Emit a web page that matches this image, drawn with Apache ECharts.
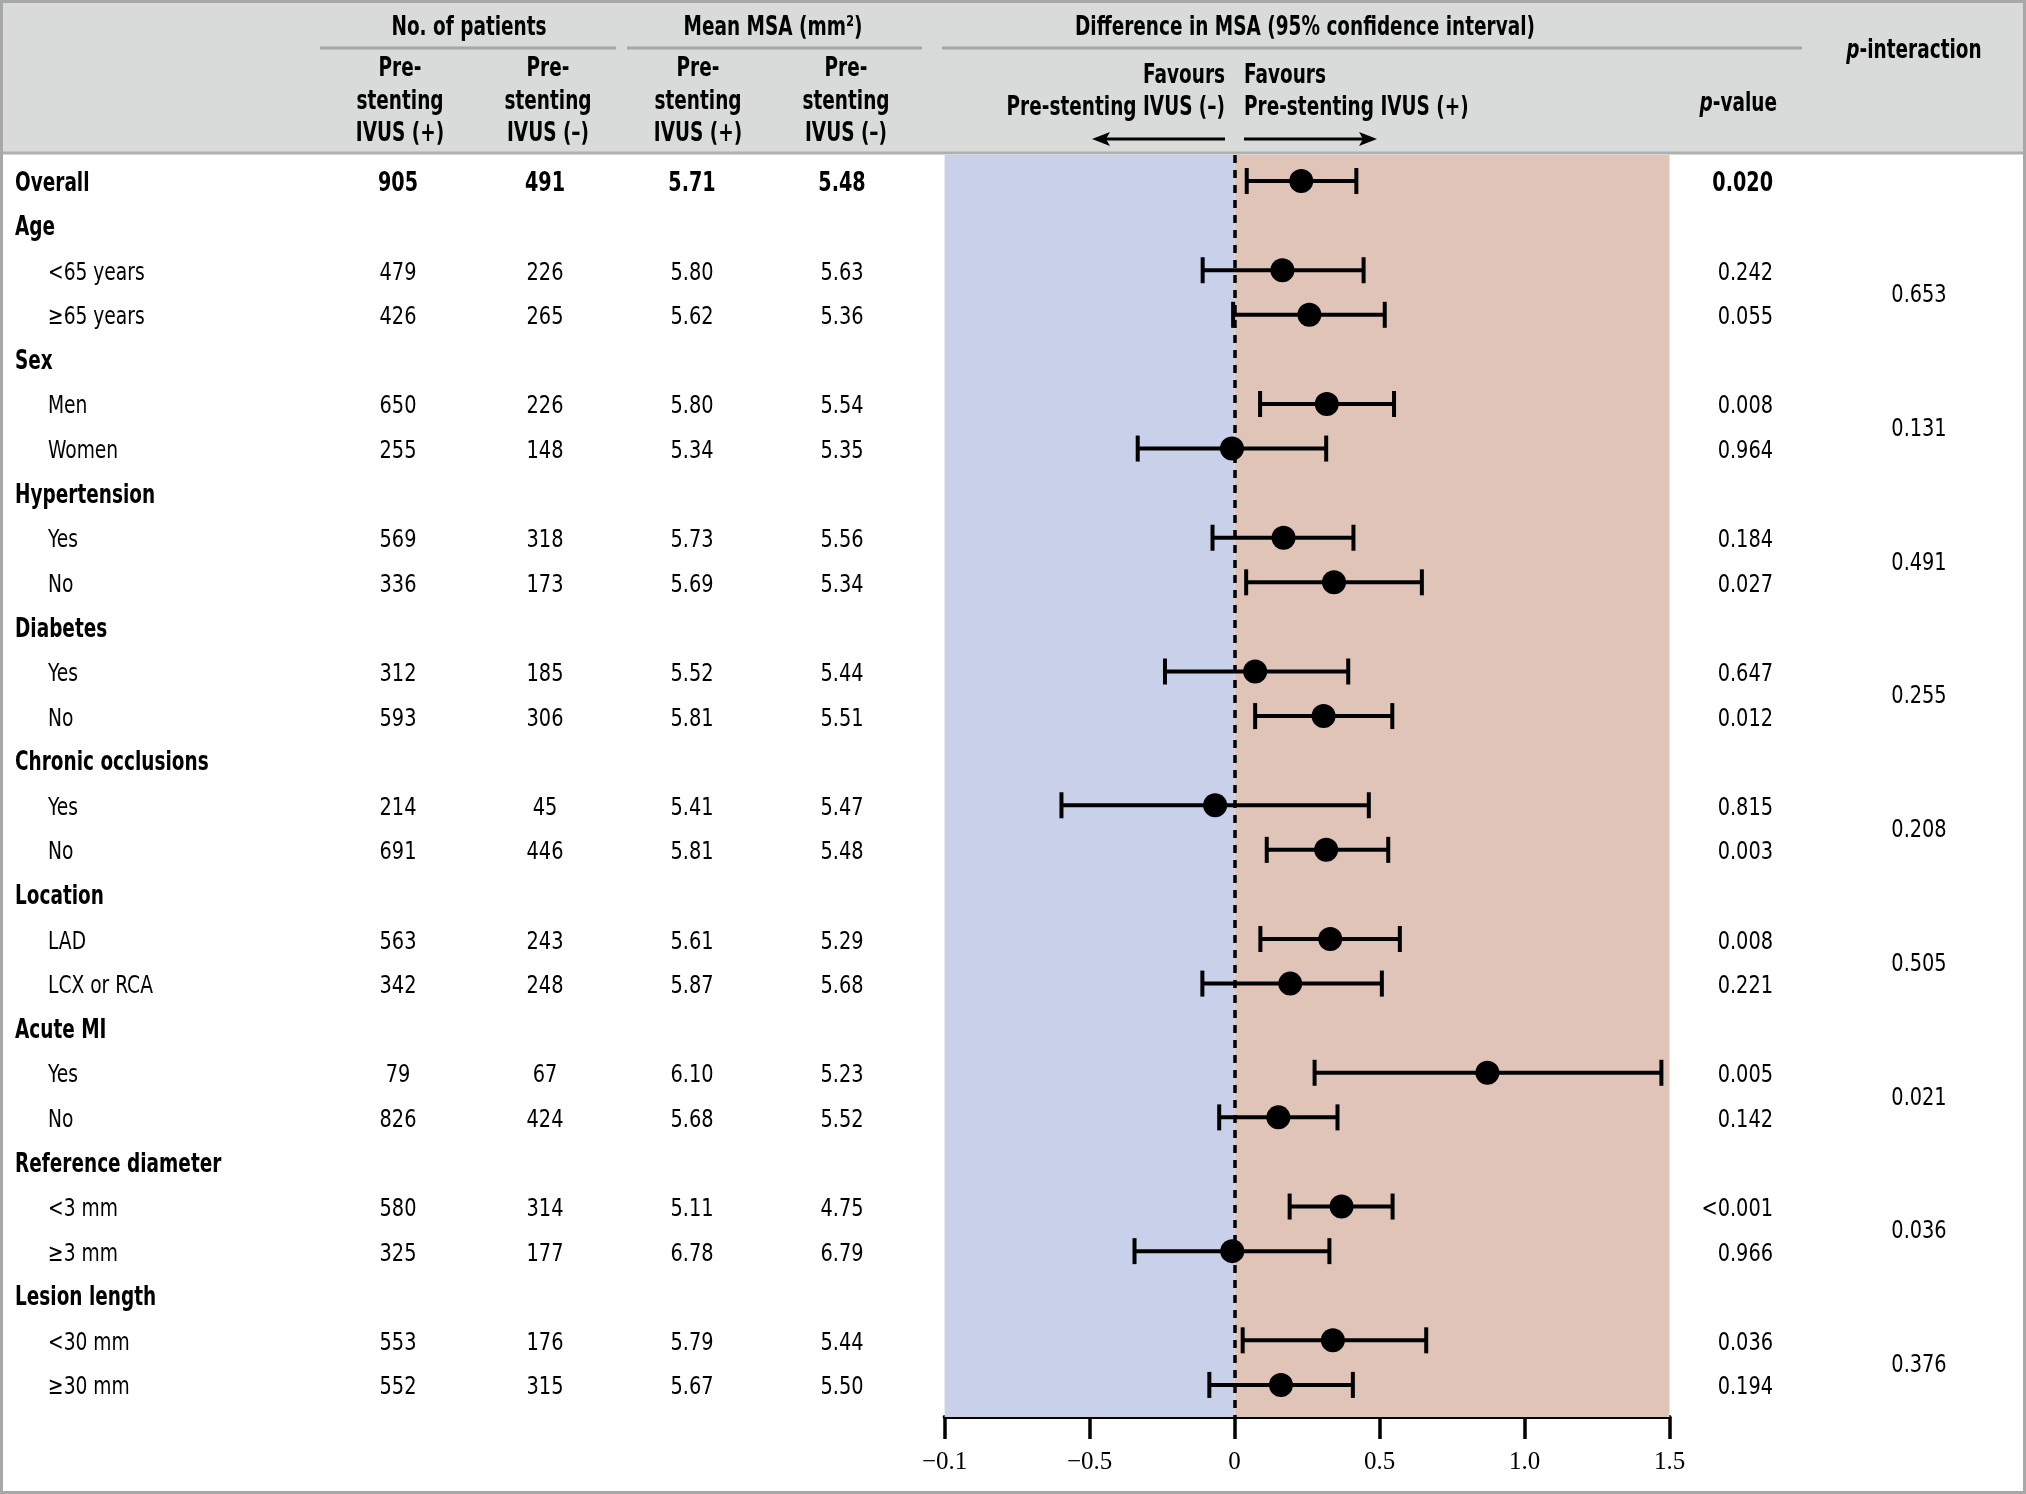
<!DOCTYPE html>
<html>
<head>
<meta charset="utf-8">
<script src="https://cdn.jsdelivr.net/npm/echarts@6/dist/echarts.min.js"></script>
<style>
html,body{margin:0;padding:0;background:#fff;}
#chart{width:2026px;height:1494px;}
</style>
</head>
<body>
<div id="chart"></div>
<script>
// ---------- data ----------
const rowLabels = ['Overall','Age','<65 years','\u226565 years','Sex','Men','Women','Hypertension','Yes','No','Diabetes','Yes','No','Chronic occlusions','Yes','No','Location','LAD','LCX or RCA','Acute MI','Yes','No','Reference diameter','<3 mm','\u22653 mm','Lesion length','<30 mm','\u226530 mm'];
const rowTypes = ['total','group','sub','sub','group','sub','sub','group','sub','sub','group','sub','sub','group','sub','sub','group','sub','sub','group','sub','sub','group','sub','sub','group','sub','sub'];
const nPlus  = ['905','','479','426','','650','255','','569','336','','312','593','','214','691','','563','342','','79','826','','580','325','','553','552'];
const nMinus = ['491','','226','265','','226','148','','318','173','','185','306','','45','446','','243','248','','67','424','','314','177','','176','315'];
const msaPlus  = ['5.71','','5.80','5.62','','5.80','5.34','','5.73','5.69','','5.52','5.81','','5.41','5.81','','5.61','5.87','','6.10','5.68','','5.11','6.78','','5.79','5.67'];
const msaMinus = ['5.48','','5.63','5.36','','5.54','5.35','','5.56','5.34','','5.44','5.51','','5.47','5.48','','5.29','5.68','','5.23','5.52','','4.75','6.79','','5.44','5.50'];
const pValues = ['0.020','','0.242','0.055','','0.008','0.964','','0.184','0.027','','0.647','0.012','','0.815','0.003','','0.008','0.221','','0.005','0.142','','<0.001','0.966','','0.036','0.194'];
// difference in MSA (point, lower, upper), null for header rows
const diffPoint = [0.23,null,0.165,0.258,null,0.318,-0.009,null,0.169,0.343,null,0.071,0.307,null,-0.067,0.316,null,0.330,0.192,null,0.872,0.151,null,0.369,-0.008,null,0.339,0.160];
const diffLower = [0.042,null,-0.110,-0.005,null,0.088,-0.334,null,-0.076,0.040,null,-0.240,0.071,null,-0.597,0.111,null,0.089,-0.111,null,0.276,-0.053,null,0.190,-0.345,null,0.028,-0.087];
const diffUpper = [0.420,null,0.445,0.518,null,0.550,0.316,null,0.410,0.646,null,0.392,0.544,null,0.463,0.530,null,0.570,0.508,null,1.472,0.355,null,0.545,0.327,null,0.661,0.408];
const pInterRows = [[2,3],[5,6],[8,9],[11,12],[14,15],[17,18],[20,21],[23,24],[26,27]];
const pInterValues = ['0.653','0.131','0.491','0.255','0.208','0.505','0.021','0.036','0.376'];
const xTickValues = [-1,-0.5,0,0.5,1,1.5];
const xTickLabels = ['\u22120.1','\u22120.5','0','0.5','1.0','1.5'];

// ---------- style ----------
const FF = '"Liberation Sans Narrow","DejaVu Sans Condensed","Arial Narrow",sans-serif';
const fReg = '25px ' + FF;
const fBold = 'bold 26px ' + FF;
const BLUE = '#c8d0ea';
const TAN = '#dfc4b7';
const TY = 3; // small vertical offset of table text relative to row centre
// horizontal compression to mimic the condensed typeface
const SX_BOLD = 0.79, SX_REG = 0.83, SX_NUM = 0.86, SX_NUMB = 0.82;

const chart = echarts.init(document.getElementById('chart'), null, {renderer:'canvas'});

const ciData = [], ptData = [], tableData = [];
rowLabels.forEach((l,i)=>{
  tableData.push([0,i]);
  if (diffPoint[i] !== null) {
    ciData.push([diffLower[i], diffUpper[i], i]);
    ptData.push([diffPoint[i], i]);
  }
});
const pInterData = pInterRows.map((r,k)=>[0, (r[0]+r[1])/2, k]);

function txt(text, x, y, font, align, sx) {
  return {type:'text', x:x, y:y, scaleX:sx, scaleY:1,
    style:{text:text, x:0, y:0, font:font, fill:'#000',
      textAlign:align, textVerticalAlign:'middle', align:align, verticalAlign:'middle'}};
}
function richTxt(base, x, y, align, sx) {
  return {type:'text', x:x, y:y, scaleX:sx, scaleY:1,
    style:{text:'{i|p}{n|' + base + '}', x:0, y:0, textAlign:align, textVerticalAlign:'middle', align:align, verticalAlign:'middle',
      rich:{i:{fontFamily:FF, fontSize:26, fontWeight:'bold', fontStyle:'italic', fill:'#000'},
            n:{fontFamily:FF, fontSize:26, fontWeight:'bold', fill:'#000'}}}};
}

const headerFont = 'bold 26px ' + FF;
const subCols = [400, 548, 698, 846];
const graphics = [
  {type:'rect', z:-10, shape:{x:0,y:0,width:2026,height:153}, style:{fill:'#d9dada'}},
  {type:'line', z:-9, shape:{x1:0,y1:153,x2:2026,y2:153}, style:{stroke:'#b0b0b0', lineWidth:3}},
  {type:'line', shape:{x1:320,y1:48,x2:616,y2:48}, style:{stroke:'#a6a6a6', lineWidth:3}},
  {type:'line', shape:{x1:627,y1:48,x2:922,y2:48}, style:{stroke:'#a6a6a6', lineWidth:3}},
  {type:'line', shape:{x1:942,y1:48,x2:1802,y2:48}, style:{stroke:'#a6a6a6', lineWidth:3}},
  txt('No. of patients', 469, 28, headerFont, 'center', SX_BOLD),
  txt('Mean MSA (mm\u00b2)', 773, 28, headerFont, 'center', SX_BOLD),
  txt('Difference in MSA (95% confidence interval)', 1305, 28, headerFont, 'center', SX_BOLD),
  richTxt('-interaction', 1914, 51, 'center', SX_BOLD),
  richTxt('-value', 1777, 104, 'right', SX_BOLD),
  txt('Favours', 1225, 76, headerFont, 'right', SX_BOLD),
  txt('Pre-stenting IVUS (\u2013)', 1225, 108, headerFont, 'right', SX_BOLD),
  txt('Favours', 1244, 76, headerFont, 'left', SX_BOLD),
  txt('Pre-stenting IVUS (+)', 1244, 108, headerFont, 'left', SX_BOLD),
  {type:'line', shape:{x1:1225,y1:139,x2:1104,y2:139}, style:{stroke:'#000', lineWidth:3}},
  {type:'polygon', shape:{points:[[1092,139],[1110,132],[1106,139],[1110,146]]}, style:{fill:'#000'}},
  {type:'line', shape:{x1:1244,y1:139,x2:1365,y2:139}, style:{stroke:'#000', lineWidth:3}},
  {type:'polygon', shape:{points:[[1377,139],[1359,132],[1363,139],[1359,146]]}, style:{fill:'#000'}},
  {type:'rect', z:100, shape:{x:1.5,y:1.5,width:2023,height:1491}, style:{fill:'none', stroke:'#a8a8a8', lineWidth:3}}
];
['(+)','(\u2013)','(+)','(\u2013)'].forEach((s,k)=>{
  graphics.push(txt('Pre-', subCols[k], 69, headerFont, 'center', SX_BOLD));
  graphics.push(txt('stenting', subCols[k], 102, headerFont, 'center', SX_BOLD));
  graphics.push(txt('IVUS ' + s, subCols[k], 134, headerFont, 'center', SX_BOLD));
});

const option = {
  animation:false,
  backgroundColor:'#ffffff',
  grid:{left:944.6, right:356.5, top:155, bottom:77, containLabel:false},
  xAxis:{type:'value', min:-1, max:1.5, interval:0.5,
    axisLine:{show:true, onZero:false, lineStyle:{color:'#000', width:4}},
    axisTick:{show:true, length:22, lineStyle:{color:'#000', width:3.5}},
    splitLine:{show:false},
    axisLabel:{margin:33, color:'#000', fontFamily:'"Liberation Serif","DejaVu Serif",serif', fontSize:25,
      formatter:function(v){ const k = xTickValues.findIndex(t=>Math.abs(t-v)<1e-9); return k>=0 ? xTickLabels[k] : ''; }}},
  yAxis:{type:'value', inverse:true, min:-0.584, max:27.72, show:false},
  graphic:graphics,
  series:[
    {type:'scatter', data:[], z:1, silent:true,
      markArea:{silent:true, itemStyle:{opacity:1}, data:[
        [{xAxis:-1, itemStyle:{color:BLUE}},{xAxis:0}],
        [{xAxis:0, itemStyle:{color:TAN}},{xAxis:1.5}]
      ]},
      markLine:{silent:true, symbol:['none','none'], label:{show:false},
        lineStyle:{color:'#000', width:3.5, type:[8,7]}, data:[{xAxis:0}]}
    },
    {type:'custom', z:3, silent:true, clip:false, data:ciData, encode:{x:[0,1], y:2},
      renderItem:function(params, api){
        const a = api.coord([api.value(0), api.value(2)]);
        const b = api.coord([api.value(1), api.value(2)]);
        const h = 13, st = {stroke:'#000', lineWidth:4};
        return {type:'group', children:[
          {type:'line', shape:{x1:a[0],y1:a[1],x2:b[0],y2:b[1]}, style:st},
          {type:'line', shape:{x1:a[0],y1:a[1]-h,x2:a[0],y2:a[1]+h}, style:st},
          {type:'line', shape:{x1:b[0],y1:b[1]-h,x2:b[0],y2:b[1]+h}, style:st}
        ]};
      }},
    {type:'scatter', z:4, silent:true, data:ptData, symbol:'circle', symbolSize:24, itemStyle:{color:'#000', opacity:1}},
    {type:'custom', z:5, silent:true, clip:false, data:tableData, encode:{x:0, y:1},
      renderItem:function(params, api){
        const i = api.value(1);
        const y = api.coord([0, i])[1] + TY;
        const t = rowTypes[i];
        const lf = t === 'sub' ? fReg : fBold;
        const nf = t === 'total' ? fBold : fReg;
        const ns = t === 'total' ? SX_NUMB : SX_NUM;
        const ch = [txt(rowLabels[i], t === 'sub' ? 48 : 15, y, lf, 'left', t === 'sub' ? SX_REG : SX_BOLD)];
        if (nPlus[i]) {
          ch.push(txt(nPlus[i], 398, y, nf, 'center', ns));
          ch.push(txt(nMinus[i], 545, y, nf, 'center', ns));
          ch.push(txt(msaPlus[i], 692, y, nf, 'center', ns));
          ch.push(txt(msaMinus[i], 842, y, nf, 'center', ns));
          ch.push(txt(pValues[i], 1773, y, nf, 'right', ns));
        }
        return {type:'group', children:ch};
      }},
    {type:'custom', z:5, silent:true, clip:false, data:pInterData, encode:{x:0, y:1},
      renderItem:function(params, api){
        const y = api.coord([0, api.value(1)])[1] + TY;
        return txt(pInterValues[api.value(2)], 1919, y, fReg, 'center', SX_NUM);
      }}
  ]
};
chart.setOption(option);
</script>
</body>
</html>
